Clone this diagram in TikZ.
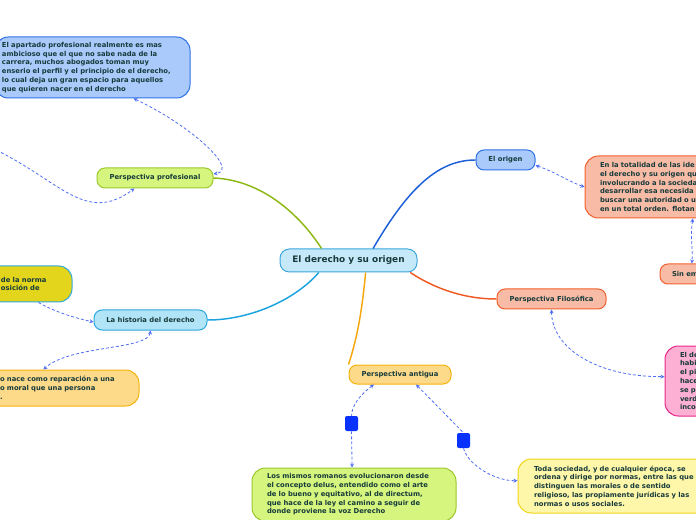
\documentclass[tikz,border=0pt]{standalone}
\usepackage{fontspec}
\setmainfont{DejaVu Sans}
\usetikzlibrary{arrows.meta}

\definecolor{texto}{HTML}{173B3B}
\definecolor{relazul}{HTML}{4D6DF5}
\definecolor{marcazul}{HTML}{0A32FF}
% rellenos y bordes
\definecolor{celesteF}{HTML}{C6E9FA}\definecolor{celesteB}{HTML}{3AA6DD}
\definecolor{verdeF}{HTML}{D5F57E}\definecolor{verdeB}{HTML}{9CC72E}
\definecolor{azulF}{HTML}{A9CAFB}\definecolor{azulB}{HTML}{2F72E4}
\definecolor{cianF}{HTML}{B2E4F7}\definecolor{cianB}{HTML}{2CA8E0}
\definecolor{oliva}{HTML}{E3D51C}
\definecolor{ambarF}{HTML}{FDD98A}\definecolor{ambarB}{HTML}{F5B30A}
\definecolor{salmonF}{HTML}{F8BBA6}\definecolor{salmonB}{HTML}{F2612D}
\definecolor{rosaF}{HTML}{FDAFD4}\definecolor{rosaB}{HTML}{E8288A}
\definecolor{crema}{HTML}{FEF6A9}\definecolor{cremaB}{HTML}{F1D518}
% ramas
\definecolor{ramaVerde}{HTML}{8DB814}
\definecolor{ramaAzul}{HTML}{1D5FD8}
\definecolor{ramaRoja}{HTML}{F05A23}
\definecolor{ramaNaranja}{HTML}{F5A60A}
\definecolor{ramaCian}{HTML}{1AA3DF}

\begin{document}
\begin{tikzpicture}[
            x=0.75pt, y=-0.75pt,
            font=\bfseries\fontsize{5.1}{6.6}\selectfont, text=texto,
            >={Stealth[length=3pt, width=3pt]},
            caja/.style={draw, line width=0.75pt, rounded corners=6pt,
                         align=center, inner sep=0pt},
            nota/.style={caja, rounded corners=10pt, align=left},
            rama/.style={line width=1.1pt},
            rel/.style={relazul, line width=0.6pt,
                        dash pattern=on 2.2pt off 1.6pt},
            marca/.style={fill=marcazul, rounded corners=1.5pt, inner sep=0pt,
                          minimum width=9.75pt, minimum height=11.25pt}
        ]

        \useasboundingbox (0,0) rectangle (696,520);
        \clip (0,0) rectangle (696,520);

        % Tema central
        \node[caja, fill=celesteF, draw=celesteB, rounded corners=7pt,
              font=\bfseries\fontsize{6.7}{8}\selectfont,
              minimum width=102.75pt, minimum height=17.25pt]
              (centro) at (348.5,260.5) {El derecho y su origen};

        % --- Perspectiva profesional ---
        \node[caja, fill=verdeF, draw=verdeB, minimum width=87pt,
              minimum height=15pt] (profesional) at (155,178)
              {Perspectiva profesional};
        \node[nota, fill=azulF, draw=azulB, minimum width=146.25pt,
              minimum height=45.75pt, inner xsep=5.25pt, text width=135.75pt]
              (apartado) at (92.5,67.5)
              {El apartado profesional realmente es mas\\
               ambicioso que el que no sabe nada de la\\
               carrera, muchos abogados toman muy\\
               enserio el perfil y el principio de el derecho,\\
               lo cual deja un gran espacio para aquellos\\
               que quieren nacer en el derecho};
        \coordinate (fueraizq) at (-8,148);

        % --- La historia del derecho ---
        \node[caja, fill=cianF, draw=cianB, minimum width=84.75pt,
              minimum height=15pt] (historia) at (150.5,320)
              {La historia del derecho};
        \node[nota, fill=oliva, draw=cianB, minimum width=69pt,
              minimum height=27pt, inner xsep=15.75pt, text width=37.5pt]
              (norma) at (26,284)
              {de la norma\\ osición de};
        \node[nota, fill=ambarF, draw=ambarB, minimum width=119.25pt,
              minimum height=27pt, inner xsep=15pt, text width=89.25pt]
              (reparacion) at (59.5,388)
              {o nace como reparación a una\\
               o moral que una persona\\ .};

        % --- El origen ---
        \node[caja, fill=azulF, draw=azulB, minimum width=44.25pt,
              minimum height=15pt] (origen) at (505.5,160) {El origen};
        \node[nota, fill=salmonF, draw=salmonB, minimum width=116.25pt,
              minimum height=46.5pt, inner xsep=11.25pt, text width=93.75pt]
              (totalidad) at (662.5,187)
              {En la totalidad de las ide\\
               el derecho y su origen qu\\
               involucrando a la socieda\\
               desarrollar esa necesida\\
               buscar una autoridad o u\\
               en un total orden. flotan};
        \node[nota, rounded corners=6pt, fill=salmonF, draw=salmonB,
              minimum width=52.5pt, minimum height=15pt, inner xsep=9pt,
              text width=34.5pt] (sinem) at (695,274) {Sin em};

        % --- Perspectiva Filosófica ---
        \node[caja, fill=salmonF, draw=salmonB, minimum width=81.75pt,
              minimum height=15pt] (filosofica) at (551.5,299)
              {Perspectiva Filosófica};
        \node[nota, fill=rosaF, draw=rosaB, minimum width=52.5pt,
              minimum height=52.5pt, inner xsep=11.25pt, text width=30pt]
              (rosa) at (700,381)
              {El de\\ habi\\ el pi\\ hace\\ se p\\ verd\\ inco};

        % --- Perspectiva antigua ---
        \node[caja, fill=ambarF, draw=ambarB, minimum width=76.5pt,
              minimum height=14.25pt] (antigua) at (400,374.5)
              {Perspectiva antigua};
        \node[nota, fill=verdeF, draw=verdeB, minimum width=153pt,
              minimum height=39.75pt, inner xsep=11.25pt, text width=130.5pt]
              (romanos) at (354,494.5)
              {Los mismos romanos evolucionaron desde\\
               el concepto deIus, entendido como el arte\\
               de lo bueno y equitativo, al de directum,\\
               que hace de la ley el camino a seguir de\\
               donde proviene la voz Derecho};
        \node[nota, fill=crema, draw=cremaB, minimum width=151.5pt,
              minimum height=40.5pt, inner xsep=12pt, text width=127.5pt]
              (sociedad) at (619,486)
              {Toda sociedad, y de cualquier época, se\\
               ordena y dirige por normas, entre las que\\
               distinguen las morales o de sentido\\
               religioso, las propiamente jurídicas y las\\
               normas o usos sociales.};
        \node[marca] (m1) at (351.5,423.5) {};
        \node[marca] (m2) at (463.5,440.5) {};

        % Ramas
        \draw[rama, ramaVerde] (centro.156) .. controls (300,215) and (262,180) .. (profesional.east);
        \draw[rama, ramaAzul] (centro.26) .. controls (410,185) and (440,160) .. (origen.west);
        \draw[rama, ramaRoja] (centro.349) .. controls (440,292) and (470,299) .. (filosofica.west);
        \draw[rama, ramaNaranja] (centro.325) .. controls (362,310) and (358,335) .. (antigua.169);
        \draw[rama, ramaCian] (centro.202) .. controls (295,300) and (250,320) .. (historia.east);

        % Relaciones
        \draw[rel, <->] (apartado.323) .. controls (190,125) and (240,170) .. (profesional.4);
        \draw[rel, ->] (fueraizq) .. controls (60,180) and (85,225) .. (profesional.207);
        \draw[rel, ->] (norma.304) .. controls (55,312) and (75,318) .. (historia.182);
        \draw[rel, <->] (historia.270) .. controls (148,350) and (70,345) .. (reparacion.131);
        \draw[rel, <->] (origen.350) .. controls (555,172) and (570,182) .. (totalidad.west);
        \draw[rel, <->] (totalidad.314) .. controls (690,235) and (693,250) .. (sinem.107);
        \draw[rel, <->] (filosofica.270) .. controls (552,350) and (600,377) .. (rosa.173);
        \draw[rel, <-] (antigua.201) .. controls (360,395) and (352,405) .. (m1.north);
        \draw[rel, ->] (m1.south) -- (romanos.94);
        \draw[rel, <-] (antigua.328) -- (m2.north);
        \draw[rel, ->] (m2.south) .. controls (468,465) and (495,481) .. (sociedad.177);

        \end{tikzpicture}
\end{document}
